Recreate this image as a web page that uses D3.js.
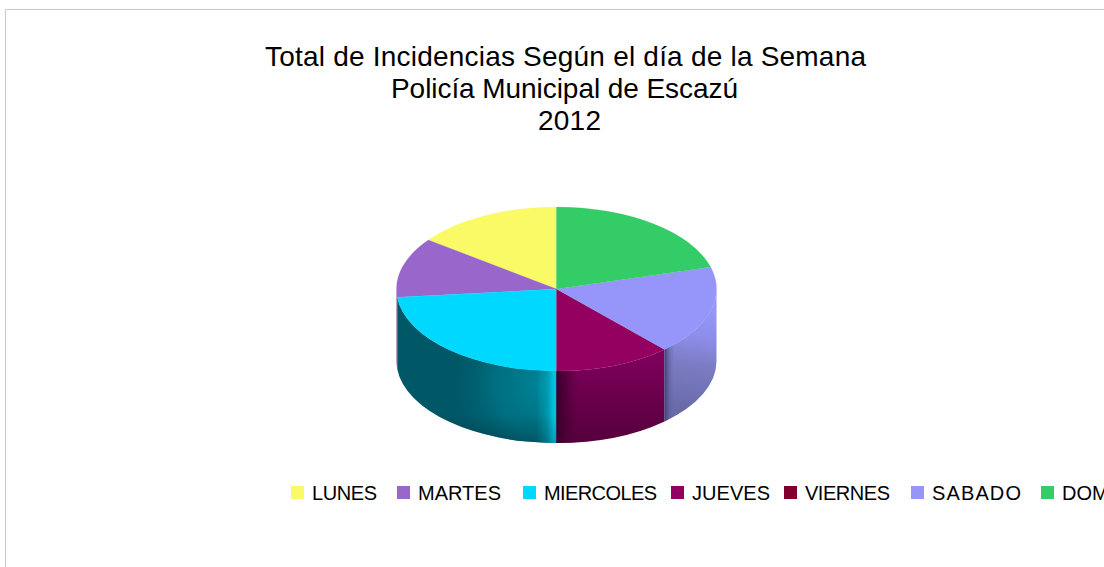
<!DOCTYPE html>
<html><head><meta charset="utf-8">
<script src="https://cdnjs.cloudflare.com/ajax/libs/d3/7.8.5/d3.min.js"></script>
<style>
html,body{margin:0;padding:0;background:#fff;overflow:hidden}
svg{display:block}
text{font-family:"Liberation Sans",Arial,sans-serif;fill:#000}
</style></head><body>
<div id="chart"></div>
<script>
const titleLines = ["Total de Incidencias Según el día de la Semana","Policía Municipal de Escazú","2012"];
const categories = ["LUNES","MARTES","MIERCOLES","JUEVES","VIERNES","SABADO","DOMINGO"];
const values = [14.8,11.8,23.4,11.8,0,17.5,20.7];
const colors = ["#faf966","#9966cc","#00d8ff","#93005f","#7f0030","#9696fa","#33cc66"];
const sideColors = ["#b0ae48","#6a4a8e","#005766","#6c0049","#50001e","#7272b8","#248f48"];
const titleX = [565.5,564.5,569.5];
const titleWidth = [601,347,63];
const legendX = [291,397,523,671,784,911,1041];
const legendTextWidth = [65,83,113,78,85,89,null];

const W=1104,H=567,cx=556.5,cy=289,rx=160,ry=82,depth=72;
const svg=d3.select("#chart").append("svg").attr("width",W).attr("height",H);
const defs=svg.append("defs");

// chart frame
svg.append("path").attr("d",`M5.5,${H}V9.5H${W}`).attr("fill","none").attr("stroke","#aed6d2").attr("stroke-width",1);

// title
svg.append("g").selectAll("text").data(titleLines).join("text")
  .attr("x",(d,i)=>titleX[i]).attr("y",(d,i)=>66+i*32).attr("text-anchor","middle")
  .attr("font-size",28).attr("textLength",(d,i)=>titleWidth[i]).attr("lengthAdjust","spacing").text(d=>d);

// pie
const pie=d3.pie().sort(null).value(d=>d).startAngle(2*Math.PI).endAngle(0);
const arcs=pie(values).map((d,i)=>({...d,i}));
const arc=d3.arc().innerRadius(0).outerRadius(rx);
const g=svg.append("g");

const px=a=>cx+rx*Math.sin(a), py=a=>cy-ry*Math.cos(a);
function sidePath(a0,a1){
  return `M${px(a0)},${py(a0)}A${rx},${ry} 0 0 1 ${px(a1)},${py(a1)}`+
    `L${px(a1)},${py(a1)+depth}A${rx},${ry} 0 0 0 ${px(a0)},${py(a0)+depth}Z`;
}
function lin(id,x1,y1,x2,y2,stops){
  const gr=defs.append("linearGradient").attr("id",id).attr("gradientUnits","userSpaceOnUse")
    .attr("x1",x1).attr("y1",y1).attr("x2",x2).attr("y2",y2);
  stops.forEach(s=>gr.append("stop").attr("offset",s[0]).attr("stop-color",s[1]).attr("stop-opacity",s[2]===undefined?1:s[2]));
}
const sabadoEdge=px(arcs[5].startAngle);
// MIERCOLES wall
const rad=defs.append("radialGradient").attr("id","mGlow").attr("gradientUnits","userSpaceOnUse")
  .attr("cx",cx-14).attr("cy",cy+96).attr("r",100);
rad.append("stop").attr("offset",0).attr("stop-color","#008499").attr("stop-opacity",1);
rad.append("stop").attr("offset",0.5).attr("stop-color","#007a8c").attr("stop-opacity",0.65);
rad.append("stop").attr("offset",1).attr("stop-color","#005766").attr("stop-opacity",0);
lin("mEdge",cx-20,0,cx,0,[[0,"#00c4de",0],[0.5,"#00b4cc",0.45],[0.85,"#00c2dc",1],[1,"#00c2dc",1]]);
lin("mFade",0,cy+82,0,cy+82+depth,[[0,"#000",0],[0.6,"#000",0],[1,"#000",0.18]]);
// JUEVES wall
lin("jBase",0,cy+70,0,cy+154,[[0,"#7c005a"],[1,"#55003c"]]);
lin("jEdge",cx,0,cx+22,0,[[0,"#35002a",1],[0.4,"#45002f",0.7],[1,"#55003c",0]]);
// SABADO wall
lin("sBase",cx+145,cy+20,cx+130,cy+120,[[0,"#9696fa"],[0.3,"#8c8ce8"],[0.55,"#7c7cc4"],[1,"#6a6aaa"]]);
lin("sEdge",sabadoEdge,0,sabadoEdge+10,0,[[0,"#40406e",1],[0.5,"#5c5c98",0.5],[1,"#6a6aaa",0]]);

const fills={2:[sideColors[2],"url(#mGlow)","url(#mEdge)","url(#mFade)"],
             3:["url(#jBase)","url(#jEdge)"],
             5:["url(#sBase)","url(#sEdge)"]};
arcs.forEach(d=>{
  const a0=Math.max(d.endAngle,Math.PI/2), a1=Math.min(d.startAngle,3*Math.PI/2);
  if(a1-a0<=1e-6) return;
  const p=sidePath(a0,a1);
  (fills[d.i]||[sideColors[d.i]]).forEach(f=>g.append("path").attr("d",p).attr("fill",f));
});
// top face
g.append("g").attr("transform",`translate(${cx},${cy}) scale(1,${ry/rx})`)
  .selectAll("path").data(arcs.filter(d=>d.value>0)).join("path")
  .attr("d",arc).attr("fill",d=>colors[d.i]).attr("stroke",d=>colors[d.i]).attr("stroke-width",0.3);

// legend
const leg=svg.append("g").selectAll("g").data(categories).join("g")
  .attr("transform",(d,i)=>`translate(${legendX[i]},486)`);
leg.append("rect").attr("width",13).attr("height",13).attr("fill",(d,i)=>colors[i]);
leg.append("text").attr("x",21).attr("y",13.5).attr("font-size",20)
  .each(function(d,i){ if(legendTextWidth[i]) d3.select(this).attr("textLength",legendTextWidth[i]).attr("lengthAdjust","spacing"); })
  .text(d=>d);
</script>
</body></html>
